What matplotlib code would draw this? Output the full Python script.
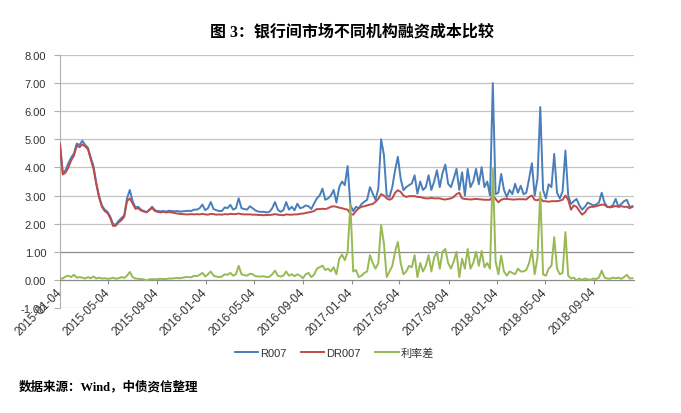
import pandas as pd
import matplotlib
matplotlib.use('Agg')
import matplotlib.pyplot as plt
import matplotlib.dates as mdates

plt.rcParams['font.family'] = ['Liberation Sans', 'Noto Sans CJK SC']

# weekly samples, starting 2015-01-04
start_date = '2015-01-04'
r007 = [
    4.85, 3.80, 3.90, 4.15, 4.35, 4.50, 4.85, 4.80, 4.95, 4.80,
    4.70, 4.35, 4.05, 3.45, 2.98, 2.65, 2.50, 2.42, 2.25, 1.98,
    1.97, 2.10, 2.20, 2.30, 2.90, 3.20, 2.80, 2.58, 2.60, 2.50,
    2.45, 2.40, 2.50, 2.60, 2.48, 2.45, 2.44, 2.45, 2.43, 2.46,
    2.45, 2.44, 2.45, 2.43, 2.44, 2.45, 2.46, 2.45, 2.50, 2.50,
    2.55, 2.68, 2.48, 2.55, 2.77, 2.52, 2.48, 2.45, 2.45, 2.58,
    2.55, 2.67, 2.50, 2.55, 2.90, 2.55, 2.52, 2.50, 2.62, 2.55,
    2.47, 2.43, 2.42, 2.42, 2.40, 2.42, 2.55, 2.77, 2.50, 2.42,
    2.48, 2.77, 2.50, 2.60, 2.48, 2.71, 2.55, 2.58, 2.65, 2.62,
    2.52, 2.72, 2.90, 3.00, 3.25, 2.85, 2.90, 3.00, 3.20, 2.75,
    3.30, 3.50, 3.37, 4.05, 2.66, 2.45, 2.60, 2.55, 2.70, 2.78,
    2.85, 3.30, 3.07, 2.85, 3.25, 5.00, 4.45, 3.00, 2.95, 3.30,
    3.90, 4.38, 3.60, 3.19, 3.30, 3.37, 3.43, 3.72, 3.07, 3.50,
    3.20, 3.30, 3.72, 3.20, 3.50, 3.90, 3.30, 3.80, 4.10, 3.42,
    3.30, 3.60, 3.95, 3.20, 3.83, 3.00, 3.95, 3.30, 3.50, 3.95,
    3.40, 4.01, 3.30, 3.50, 3.00, 7.00, 3.05, 3.10, 3.77, 3.20,
    2.95, 3.20, 3.05, 3.42, 3.10, 3.35, 3.05, 3.10, 3.60, 4.15,
    3.00, 3.60, 6.15, 3.20, 2.90, 3.40, 3.30, 4.48, 3.10, 2.90,
    3.15, 4.60, 3.00, 2.70, 2.80, 2.88, 2.65, 2.50, 2.60, 2.75,
    2.70, 2.65, 2.68, 2.75, 3.10, 2.75, 2.60, 2.60, 2.65, 2.88,
    2.60, 2.70, 2.80, 2.85, 2.60, 2.62,
]
dr007 = [
    4.80, 3.75, 3.82, 4.00, 4.25, 4.42, 4.78, 4.72, 4.82, 4.75,
    4.65, 4.30, 3.95, 3.40, 2.93, 2.60, 2.45, 2.38, 2.20, 1.92,
    1.93, 2.05, 2.12, 2.25, 2.80, 2.90, 2.72, 2.53, 2.55, 2.47,
    2.43, 2.42, 2.48, 2.56, 2.45, 2.42, 2.40, 2.42, 2.40, 2.41,
    2.40, 2.38, 2.36, 2.35, 2.34, 2.33, 2.33, 2.34, 2.33, 2.34,
    2.33, 2.35, 2.33, 2.32, 2.35, 2.34, 2.32, 2.33, 2.32, 2.34,
    2.33, 2.35, 2.34, 2.34, 2.36, 2.34, 2.33, 2.33, 2.33, 2.32,
    2.32, 2.31, 2.31, 2.30, 2.31, 2.31, 2.32, 2.34, 2.32, 2.31,
    2.30, 2.33, 2.32, 2.32, 2.33, 2.33, 2.35, 2.36, 2.38, 2.40,
    2.42, 2.45, 2.52, 2.52, 2.53, 2.52, 2.55, 2.60, 2.62, 2.60,
    2.57, 2.55, 2.52, 2.50, 2.35, 2.32, 2.45, 2.55, 2.60, 2.62,
    2.65, 2.68, 2.70, 2.78, 2.88, 3.05, 3.00, 2.90, 2.85, 2.90,
    3.10, 3.19, 3.13, 3.00, 2.95, 2.98, 2.98, 2.98, 2.95, 2.95,
    2.92, 2.90, 2.90, 2.92, 2.90, 2.90, 2.90, 2.87, 2.86, 2.88,
    2.90, 2.95, 3.05, 3.10, 2.90, 2.88, 2.87, 2.86, 2.87, 2.88,
    2.87, 2.86, 2.85, 2.85, 2.85, 3.00, 2.88, 2.76, 2.85, 2.88,
    2.88, 2.87, 2.86, 2.86, 2.87, 2.87, 2.87, 2.86, 2.95, 3.00,
    2.85, 2.83, 2.90, 2.80, 2.80, 2.78, 2.80, 2.80, 2.80, 2.82,
    2.85, 3.00, 2.85, 2.50, 2.65, 2.60, 2.45, 2.32, 2.40, 2.55,
    2.60, 2.60, 2.62, 2.65, 2.68, 2.67, 2.60, 2.58, 2.60, 2.63,
    2.60, 2.62, 2.60, 2.60, 2.55, 2.60,
]
spread = [
    0.05, 0.05, 0.12, 0.15, 0.10, 0.18, 0.08, 0.10, 0.08, 0.05,
    0.10, 0.06, 0.12, 0.05, 0.08, 0.05, 0.06, 0.04, 0.05, 0.08,
    0.04, 0.06, 0.10, 0.07, 0.15, 0.28, 0.10, 0.05, 0.04, 0.03,
    0.02, -0.02, 0.02, 0.03, 0.02, 0.03, 0.04, 0.03, 0.03, 0.05,
    0.05, 0.06, 0.07, 0.06, 0.08, 0.10, 0.10, 0.09, 0.15, 0.13,
    0.18, 0.25, 0.12, 0.20, 0.30, 0.15, 0.12, 0.10, 0.12, 0.20,
    0.18, 0.25, 0.15, 0.20, 0.50, 0.20, 0.17, 0.15, 0.22, 0.20,
    0.13, 0.12, 0.12, 0.13, 0.10, 0.11, 0.20, 0.33, 0.15, 0.12,
    0.15, 0.30, 0.15, 0.20, 0.13, 0.20, 0.15, 0.06, 0.20, 0.25,
    0.10, 0.18, 0.40, 0.45, 0.51, 0.35, 0.40, 0.30, 0.45, 0.20,
    0.75, 0.90, 0.70, 1.00, 2.70, 0.30, 0.35, 0.10, 0.15, 0.25,
    0.30, 0.88, 0.60, 0.40, 0.60, 1.95, 1.30, 0.10, 0.30, 0.50,
    1.00, 1.35, 0.60, 0.20, 0.30, 0.50, 0.45, 0.88, 0.10, 0.60,
    0.30, 0.50, 0.88, 0.30, 0.80, 1.00, 0.40, 1.00, 1.10, 0.60,
    0.40, 0.65, 1.00, 0.10, 0.75, 0.40, 1.10, 0.40, 0.60, 1.00,
    0.50, 1.03, 0.45, 0.60, 0.40, 3.95, 0.65, 0.20, 0.86, 0.30,
    0.15, 0.30, 0.25, 0.20, 0.40, 0.30, 0.30, 0.35, 0.60, 1.05,
    0.20, 0.80, 3.12, 0.20, 0.15, 0.40, 0.50, 1.52, 0.40, 0.20,
    0.25, 1.70, 0.15, 0.05, 0.08, -0.02, 0.05, 0.00, 0.05, 0.02,
    0.00, 0.05, 0.03, 0.08, 0.33, 0.08, 0.05, 0.04, 0.08, 0.06,
    0.08, 0.04, 0.10, 0.18, 0.05, 0.06,
]
series_names = ['R007', 'DR007', '利率差']
series_colors = ['#4a7ebb', '#be4b48', '#98b954']

dates = pd.date_range(start_date, periods=len(r007), freq='7D')

fig = plt.figure(figsize=(6.81, 4.14), dpi=100)
ax = fig.add_axes([0.0881, 0.2536, 0.8429, 0.6111])

for vals, name, col in zip([r007, dr007, spread], series_names, series_colors):
    ax.plot(dates, vals, color=col, lw=1.4, label=name, zorder=3)

ax.set_ylim(-1, 8)
ax.set_yticks(range(-1, 9))
ax.yaxis.set_major_formatter(matplotlib.ticker.FormatStrFormatter('%.2f'))
ax.set_xlim(pd.Timestamp(start_date), pd.Timestamp('2018-12-13'))

ax.xaxis.set_major_locator(mdates.MonthLocator(bymonth=[1, 5, 9], bymonthday=4))
ax.xaxis.set_major_formatter(mdates.DateFormatter('%Y-%m-%d'))

# gridlines, the 1.00 one looks darker in the source
for yv in range(-1, 9):
    c = '#8c8c8c' if yv == 1 else '#c4c4c4'
    ax.axhline(yv, color=c, lw=0.9, zorder=1)

for s in ['top', 'right']:
    ax.spines[s].set_visible(False)
ax.spines['left'].set_color('#b0b0b0')
ax.spines['bottom'].set_position(('data', 0))
ax.spines['bottom'].set_color('#8c8c8c')

ax.tick_params(axis='y', length=4, color='#b0b0b0', pad=6, labelsize=8,
               labelcolor='#333333')
ax.tick_params(axis='x', length=3, color='#8c8c8c', pad=4, labelsize=8.5,
               labelcolor='#333333')
for lab in ax.get_xticklabels():
    lab.set_rotation(45)
    lab.set_ha('right')
    lab.set_va('center')
    lab.set_rotation_mode('anchor')

fig.text(0.517, 0.922, '图 3：银行间市场不同机构融资成本比较', ha='center', va='center',
         fontsize=11.5, fontweight='bold',
         family=['Liberation Serif', 'Noto Sans CJK SC'])

fig.legend(loc='center', bbox_to_anchor=(0.491, 0.145), ncol=3, frameon=False,
           fontsize=8, handlelength=2.1, handletextpad=0.2, columnspacing=1.3,
           labelcolor='#333333')

fig.text(0.027, 0.065, '数据来源：Wind，中债资信整理', ha='left', va='center',
         fontsize=9, fontweight='bold',
         family=['Liberation Serif', 'Noto Sans CJK SC'])

plt.savefig('out.png', dpi=100)
